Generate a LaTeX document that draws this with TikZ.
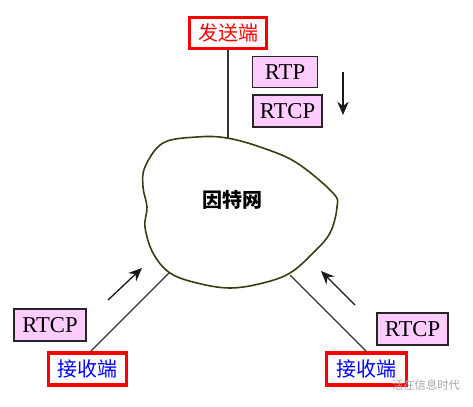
\documentclass[tikz,border=0pt]{standalone}
\usepackage{fontspec}
\setmainfont{Liberation Serif}
\newfontfamily\cjk{Noto Sans CJK SC}
\usepackage{xcolor}
\usepackage{tikz}
\usetikzlibrary{positioning, arrows.meta}

\definecolor{pinkfill}{RGB}{255,204,255}
\definecolor{blobline}{RGB}{60,60,20}

\begin{document}
\begin{tikzpicture}[
    x=0.75pt, y=-0.75pt,
    endbox/.style={rectangle, draw=red, line width=2.3pt, fill=white, minimum height=23pt, inner sep=2pt, font=\cjk\fontsize{15}{18}\selectfont},
    protobox/.style={rectangle, draw=black!85, line width=1.1pt, fill=pinkfill, minimum height=23pt, inner sep=2pt, font=\fontsize{17}{20}\selectfont},
    link/.style={draw=black!80, line width=0.9pt},
    flow/.style={-{Stealth[length=10pt,width=8.5pt]}, line width=1pt, black!90},
]

\useasboundingbox (0,0) rectangle (473,406);

% the network cloud
\draw[blobline, line width=1.2pt] plot[smooth cycle, tension=0.6] coordinates {
    (145,167) (163,143) (197,137) (227,138) (263,148) (297,163) (333,193)
    (337,207) (330,233) (313,253) (290,273) (263,283) (230,288) (197,283)
    (170,273) (153,253) (145,227) (147,207) (143,187)};
\node[font=\cjk\bfseries\fontsize{15}{18}\selectfont] (net) at (232,200) {因特网};

\coordinate (nettop) at (228,138);
\coordinate (netleft) at (169,273);
\coordinate (netright) at (290,275);

% sender
\node[endbox, minimum width=58pt, text=red] (tx) at (228,33) {发送端};
\node[protobox, minimum width=49pt] (rtp) at (285,72) {RTP};
\node[protobox, minimum width=52pt, minimum height=24pt] (rtcptop) at (287.5,111) {RTCP};

% receivers
\node[endbox, minimum width=58pt, minimum height=24pt, text=blue] (rxleft) at (87.5,369) {接收端};
\node[endbox, minimum width=60pt, minimum height=24pt, text=blue] (rxright) at (366.5,369) {接收端};
\node[protobox, minimum width=54pt, minimum height=24pt] (rtcpleft) at (50,325) {RTCP};
\node[protobox, minimum width=53pt, minimum height=24pt] (rtcpright) at (412.5,329) {RTCP};

\draw[link] (tx) -- (nettop);
\draw[link] (netleft) -- (rxleft.80);
\draw[link] (netright) -- (rxright.north);

% direction of the packets
\coordinate (downtail) at (343,72);
\coordinate (downhead) at (343,115);
\coordinate (lefttail) at (108,300);
\coordinate (lefthead) at (142,268);
\coordinate (righttail) at (355,305);
\coordinate (righthead) at (321,271);
\draw[flow] (downtail) -- (downhead);
\draw[flow] (lefttail) -- (lefthead);
\draw[flow] (righttail) -- (righthead);

% watermark
\node[font=\cjk\fontsize{8.5}{10}\selectfont, text=black!35] (mark) at (426,385) {活在信息时代};

\end{tikzpicture}
\end{document}
